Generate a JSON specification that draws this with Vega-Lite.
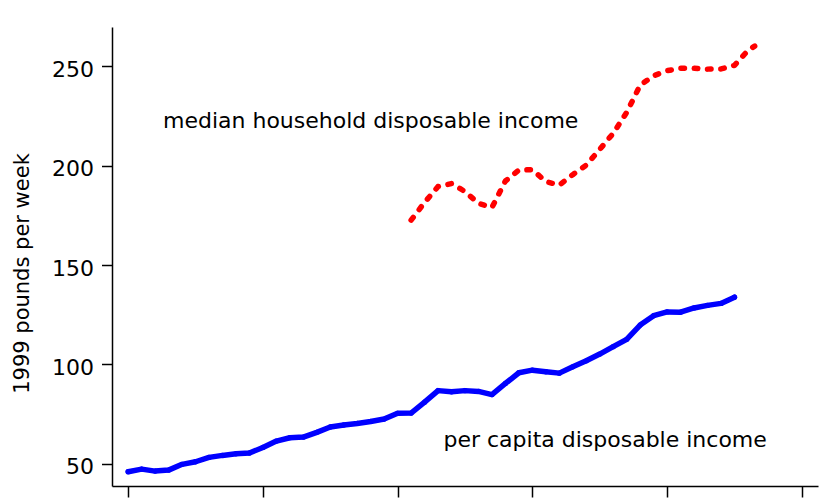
{
  "$schema": "https://vega.github.io/schema/vega-lite/v6.json",
  "width": 706,
  "height": 459,
  "autosize": {"type": "none"},
  "padding": {"left": 112, "top": 27, "right": 6, "bottom": 12},
  "background": "white",
  "config": {"view": {"stroke": null}, "font": "DejaVu Sans"},
  "datasets": {
    "percapita": [
      {"year": 1960, "income": 46.0}, {"year": 1961, "income": 47.3}, {"year": 1962, "income": 46.3},
      {"year": 1963, "income": 46.8}, {"year": 1964, "income": 49.7}, {"year": 1965, "income": 51.0},
      {"year": 1966, "income": 53.2}, {"year": 1967, "income": 54.2}, {"year": 1968, "income": 55.0},
      {"year": 1969, "income": 55.4}, {"year": 1970, "income": 58.2}, {"year": 1971, "income": 61.4},
      {"year": 1972, "income": 63.1}, {"year": 1973, "income": 63.4}, {"year": 1974, "income": 65.8},
      {"year": 1975, "income": 68.5}, {"year": 1976, "income": 69.5}, {"year": 1977, "income": 70.3},
      {"year": 1978, "income": 71.3}, {"year": 1979, "income": 72.5}, {"year": 1980, "income": 75.4},
      {"year": 1981, "income": 75.5}, {"year": 1982, "income": 81.0}, {"year": 1983, "income": 86.8},
      {"year": 1984, "income": 86.2}, {"year": 1985, "income": 86.8}, {"year": 1986, "income": 86.4},
      {"year": 1987, "income": 84.8}, {"year": 1988, "income": 90.4}, {"year": 1989, "income": 95.8},
      {"year": 1990, "income": 97.1}, {"year": 1991, "income": 96.3}, {"year": 1992, "income": 95.6},
      {"year": 1993, "income": 98.8}, {"year": 1994, "income": 101.8}, {"year": 1995, "income": 105.2},
      {"year": 1996, "income": 108.9}, {"year": 1997, "income": 112.6}, {"year": 1998, "income": 119.8},
      {"year": 1999, "income": 124.5}, {"year": 2000, "income": 126.4}, {"year": 2001, "income": 126.3},
      {"year": 2002, "income": 128.4}, {"year": 2003, "income": 129.7}, {"year": 2004, "income": 130.7},
      {"year": 2005, "income": 133.8}
    ],
    "median": [
      {"year": 1981, "income": 172.6}, {"year": 1982, "income": 181.5}, {"year": 1983, "income": 189.5},
      {"year": 1984, "income": 191.0}, {"year": 1985, "income": 187.0}, {"year": 1986, "income": 181.0},
      {"year": 1987, "income": 179.0}, {"year": 1988, "income": 192.3}, {"year": 1989, "income": 197.8},
      {"year": 1990, "income": 198.0}, {"year": 1991, "income": 192.0}, {"year": 1992, "income": 190.2},
      {"year": 1993, "income": 195.5}, {"year": 1994, "income": 200.3}, {"year": 1995, "income": 208.2},
      {"year": 1996, "income": 216.3}, {"year": 1997, "income": 226.8}, {"year": 1998, "income": 240.5},
      {"year": 1999, "income": 245.3}, {"year": 2000, "income": 247.8}, {"year": 2001, "income": 249.0},
      {"year": 2002, "income": 249.0}, {"year": 2003, "income": 248.6}, {"year": 2004, "income": 248.7},
      {"year": 2005, "income": 250.5}, {"year": 2006, "income": 258.0}, {"year": 2006.5, "income": 260.2}
    ]
  },
  "layer": [
    {
      "data": {"name": "median"},
      "mark": {"type": "line", "color": "#FF0000", "strokeWidth": 5.5, "strokeCap": "round", "strokeJoin": "round", "strokeDash": [3.5, 9.8]},
      "encoding": {
        "x": {
          "field": "year",
          "type": "quantitative",
          "scale": {"domain": [1958.8, 2011.2], "nice": false, "zero": false},
          "axis": {
            "values": [1960, 1970, 1980, 1990, 2000, 2010],
            "labels": false,
            "title": null,
            "grid": false,
            "tickSize": 11,
            "tickWidth": 1.5,
            "tickColor": "black",
            "domainColor": "black",
            "domainWidth": 1.5
          }
        },
        "y": {
          "field": "income",
          "type": "quantitative",
          "scale": {"domain": [38.8, 269.8], "nice": false, "zero": false},
          "axis": {
            "values": [50, 100, 150, 200, 250],
            "grid": false,
            "tickSize": 10.5,
            "tickWidth": 1.5,
            "tickColor": "black",
            "domainColor": "black",
            "domainWidth": 1.5,
            "labelFontSize": 22,
            "labelColor": "black",
            "labelPadding": 8,
            "labelOffset": 3,
            "title": "1999 pounds per week",
            "titleFontSize": 21,
            "titleFontWeight": "normal",
            "titleColor": "black",
            "titleX": -89.8,
            "titleY": 246,
            "titleAngle": 270,
            "titleAlign": "center",
            "titleBaseline": "middle"
          }
        }
      }
    },
    {
      "data": {"name": "percapita"},
      "mark": {"type": "line", "color": "#0000FF", "strokeWidth": 5.5, "strokeCap": "round", "strokeJoin": "round"},
      "encoding": {
        "x": {"field": "year", "type": "quantitative"},
        "y": {"field": "income", "type": "quantitative"}
      }
    },
    {
      "data": {"name": "percapita"},
      "mark": {"type": "point", "filled": true, "color": "#0000FF", "size": 28, "opacity": 1},
      "encoding": {
        "x": {"field": "year", "type": "quantitative"},
        "y": {"field": "income", "type": "quantitative"}
      }
    },
    {
      "data": {"values": [{"label": "median household disposable income"}]},
      "mark": {"type": "text", "fontSize": 22, "align": "center", "baseline": "alphabetic", "color": "black"},
      "encoding": {
        "text": {"field": "label", "type": "nominal"},
        "x": {"datum": 1978.0, "type": "quantitative"},
        "y": {"datum": 218.8, "type": "quantitative"}
      }
    },
    {
      "data": {"values": [{"label": "per capita disposable income"}]},
      "mark": {"type": "text", "fontSize": 22, "align": "center", "baseline": "alphabetic", "color": "black"},
      "encoding": {
        "text": {"field": "label", "type": "nominal"},
        "x": {"datum": 1995.4, "type": "quantitative"},
        "y": {"datum": 58.3, "type": "quantitative"}
      }
    }
  ]
}
